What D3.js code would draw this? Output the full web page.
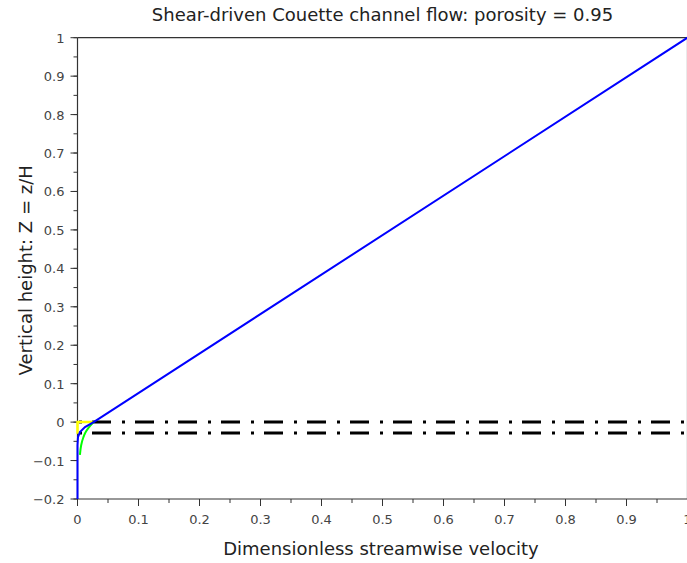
<!DOCTYPE html>
<html><head><meta charset="utf-8">
<script src="https://cdn.jsdelivr.net/npm/d3@7"></script>
<style>
html,body{margin:0;padding:0;background:#fff;overflow:hidden;}
text{font-family:"DejaVu Sans",sans-serif;}
</style></head>
<body>
<svg id="chart" width="687" height="563"></svg>
<script>
const title = "Shear-driven Couette channel flow: porosity = 0.95";
const xLabel = "Dimensionless streamwise velocity";
const yLabel = "Vertical height: Z = z/H";
const xTicks = [0,0.1,0.2,0.3,0.4,0.5,0.6,0.7,0.8,0.9,1];
const yTicks = [-0.2,-0.1,0,0.1,0.2,0.3,0.4,0.5,0.6,0.7,0.8,0.9,1];
// velocity profiles: [u, Z]
const blueU = [0, 0, 0.0008, 0.004, 0.0123, 0.0264, 1];
const blueZ = [-0.2, -0.06, -0.039, -0.026, -0.013, 0, 1];
const greenU = [0.004, 0.006, 0.0095, 0.013, 0.018, 0.0264];
const greenZ = [-0.085, -0.06, -0.04, -0.027, -0.015, 0];
const yellowU = [0.025, 0, 0];
const yellowZ = [0, 0, -0.03];
// interface lines (dash-dot)
const interfaceZ = [0, -0.028];

const svg = d3.select("#chart");
const x = d3.scaleLinear().domain([0,1]).range([77.5, 687.5]);
const y = d3.scaleLinear().domain([-0.2,1]).range([499, 37.7]);
const axisColor = "#333";
const txtColor = "#444";

// title
svg.append("text").attr("x", 382.5).attr("y", 21).attr("text-anchor","middle")
  .attr("font-size", 18).attr("fill", "#222").text(title);

// axes
const gx = svg.append("g").attr("transform", `translate(0,${y(-0.2)})`);
const xMinor = d3.range(0, 1.0001, 0.05);
gx.selectAll("line.mn").data(xMinor).join("line")
  .attr("x1", d=>x(d)).attr("x2", d=>x(d)).attr("y1",0).attr("y2",4)
  .attr("stroke",axisColor).attr("stroke-width",1);
gx.selectAll("line.mj").data(xTicks).join("line")
  .attr("x1", d=>x(d)).attr("x2", d=>x(d)).attr("y1",0).attr("y2",7)
  .attr("stroke",axisColor).attr("stroke-width",1);
gx.selectAll("text").data(xTicks).join("text")
  .attr("x", d=>x(d)).attr("y", 25).attr("text-anchor","middle")
  .attr("font-size", 13).attr("fill", txtColor).text(d=>d3.format("~g")(d));

const gy = svg.append("g").attr("transform", `translate(${x(0)},0)`);
const yMinor = d3.range(-0.2, 1.0001, 0.05);
gy.selectAll("line.mn").data(yMinor).join("line")
  .attr("y1", d=>y(d)).attr("y2", d=>y(d)).attr("x1",0).attr("x2",-4)
  .attr("stroke",axisColor).attr("stroke-width",1);
gy.selectAll("line.mj").data(yTicks).join("line")
  .attr("y1", d=>y(d)).attr("y2", d=>y(d)).attr("x1",0).attr("x2",-7)
  .attr("stroke",axisColor).attr("stroke-width",1);
gy.selectAll("text").data(yTicks).join("text")
  .attr("x", -13).attr("y", d=>y(d)+5).attr("text-anchor","end")
  .attr("font-size", 13).attr("fill", txtColor).text(d=>d3.format("~g")(d));

// frame
svg.append("line").attr("x1",x(0)).attr("x2",x(0)).attr("y1",y(1)).attr("y2",y(-0.2))
  .attr("stroke",axisColor).attr("stroke-width",1.2);
svg.append("line").attr("x1",x(0)).attr("x2",x(1)).attr("y1",y(-0.2)).attr("y2",y(-0.2))
  .attr("stroke",axisColor).attr("stroke-width",1.2);
svg.append("line").attr("x1",x(0)).attr("x2",x(1)).attr("y1",y(1)).attr("y2",y(1))
  .attr("stroke",axisColor).attr("stroke-width",1.2);
svg.append("line").attr("x1",x(1)).attr("x2",x(1)).attr("y1",y(1)).attr("y2",y(-0.2))
  .attr("stroke",axisColor).attr("stroke-width",1.2);

// axis labels
svg.append("text").attr("x", 381).attr("y", 555).attr("text-anchor","middle")
  .attr("font-size", 18).attr("fill", "#222").text(xLabel);
svg.append("text").attr("transform", `translate(32,${(y(1)+y(-0.2))/2+2}) rotate(-90)`)
  .attr("text-anchor","middle").attr("font-size", 18).attr("fill", "#222").text(yLabel);

// interface lines
svg.selectAll("line.iface").data(interfaceZ).join("line")
  .attr("x1", x(0)).attr("x2", x(1)).attr("y1", d=>y(d)).attr("y2", d=>y(d))
  .attr("stroke","#000").attr("stroke-width",3)
  .attr("stroke-dasharray","19,11,3,10").attr("stroke-dashoffset",28.5);

const line = d3.line().x(d=>x(d[0])).y(d=>y(d[1]));
svg.append("path").attr("d", line(yellowU.map((u,i)=>[u,yellowZ[i]])))
  .attr("fill","none").attr("stroke","#ffff00").attr("stroke-width",2.5);
svg.append("path").attr("d", d3.line().x(d=>x(d[0])).y(d=>y(d[1])).curve(d3.curveMonotoneY)(greenU.map((u,i)=>[u,greenZ[i]])))
  .attr("fill","none").attr("stroke","#00ff00").attr("stroke-width",2);
svg.append("path").attr("d", line(blueU.map((u,i)=>[u,blueZ[i]])))
  .attr("fill","none").attr("stroke","#0000ff").attr("stroke-width",2);
</script>
</body></html>
